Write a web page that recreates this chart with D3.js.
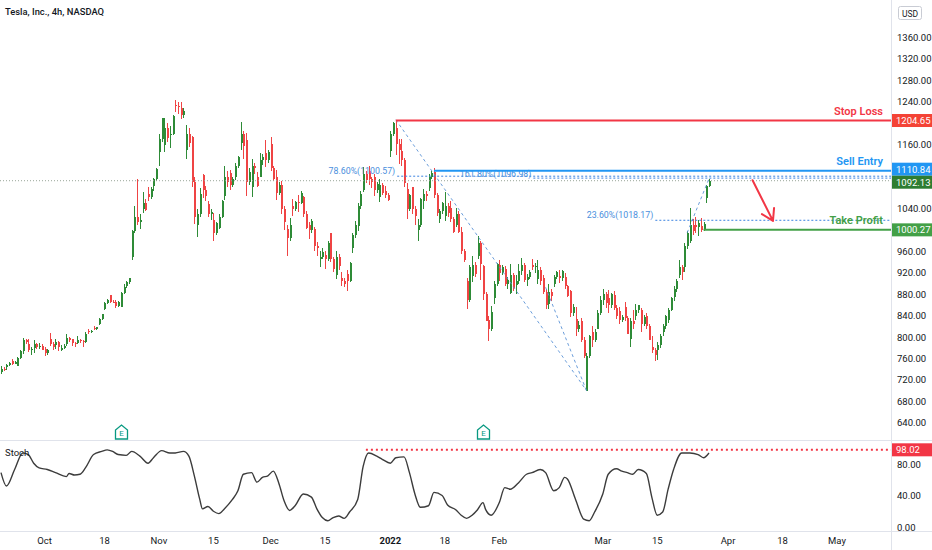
<!DOCTYPE html>
<html>
<head>
<meta charset="utf-8">
<script src="https://d3js.org/d3.v7.min.js"></script>
<style>
  body { margin: 0; background: #fff; }
  svg text { font-family: Roboto, "Liberation Sans", sans-serif; }
</style>
</head>
<body>
<svg id="chart" width="932" height="550"></svg>
<script>
'use strict'

/* =========================== Data (TSLA 4h, Sep 21 2021 - Mar 28 2022) =========================== */
// one entry per 4h bar, two bars a trading day (Nov 26 half day has one)
var opens = [
  734,741, 743,747, 755,750, 746,760, 773,794, 787,775, 780,786, 781,784,
  778,770, 797,786, 785,790, 776,780, 786,798, 796,788, 788,795, 792,790, 811,809, 816,815, 824,833, 852,864, 878,866, 865,858, 856,882, 896,902, 950,998, 1025,1015, 1040,1050, 1068,1062, 1082,1095,
  1145,1170, 1159,1190, 1177,1180, 1234,1232, 1228,1215, 1150,1180, 1174,1090, 1010,1030, 1103,1075, 1048,1030, 1018,995, 1003,1025, 1064,1100, 1107,1085, 1099,1120, 1162,1180, 1168,1090, 1080,1120, 1100, 1100,1130, 1144,1130,
  1161,1115, 1099,1070, 1085,1040, 1002,985, 1044,1040, 1053,1050, 1061,1030, 1009,1000, 1001,970, 945,950, 953,945, 995,945, 915,950, 911,905, 917,905, 966,990, 1007,1045, 1074,1105, 1110,1095, 1099,1075, 1061,1085, 1073,1065,
  1148,1180, 1190,1160, 1147,1130, 1077,1040, 1080,1040, 1000,1010, 1054,1068, 1079,1100, 1109,1065, 1020,1035, 1027,1045, 1042,1020, 1010,1030, 996,960, 905,870, 914,935, 952,975, 933,880, 832,815, 873,900,
  935,920, 928,900, 882,915, 897,905, 924,935, 906,912, 935,930, 908,925, 910,885, 862,885, 900,912, 914,910, 913,895, 886,845, 834,815, 830,795, 700,765, 809,795, 815,845,
  870,880, 872,860, 879,855, 849,832, 856,835, 796,830, 840,850, 851,825, 840,820, 781,775, 775,785, 809,820, 831,850, 875,890, 915,930, 930,970, 980,1010, 1010,1005, 1008,1000, 1060,1082
];
var highs = [
  745,744, 750,754, 758,756, 762,775, 799,797, 796,782, 794,789, 789,786,
  781,777, 807,790, 797,792, 785,787, 805,800, 796,790, 801,797, 795,810, 815,814, 820,819, 835,843, 866,871, 878,870, 870,867, 885,900, 905,910, 1000,1045, 1095,1030, 1071,1058, 1081,1080, 1098,1115,
  1180,1210, 1209,1200, 1195,1215, 1243,1240, 1240,1228, 1197,1190, 1175,1100, 1040,1078, 1105,1082, 1055,1040, 1032,1015, 1030,1057, 1120,1110, 1112,1100, 1125,1139, 1202,1185, 1181,1115, 1133,1125, 1109, 1143,1142, 1168,1150,
  1173,1120, 1113,1090, 1091,1045, 1010,1022, 1058,1055, 1065,1072, 1063,1035, 1015,1020, 1005,978, 960,966, 960,979, 995,950, 961,955, 922,910, 925,940, 995,1016, 1050,1073, 1117,1110, 1119,1100, 1104,1090, 1096,1088, 1082,1070,
  1185,1201, 1206,1170, 1170,1135, 1088,1068, 1081,1045, 1020,1059, 1076,1072, 1105,1111, 1116,1070, 1040,1052, 1071,1050, 1055,1025, 1042,1035, 1005,965, 910,934, 951,940, 988,980, 935,885, 840,858, 905,938,
  944,935, 932,912, 937,920, 915,937, 948,938, 918,926, 946,938, 944,930, 916,890, 899,890, 915,923, 926,925, 919,898, 887,862, 857,830, 835,800, 770,803, 820,815, 850,877,
  890,884, 887,882, 886,860, 856,842, 866,840, 835,850, 861,860, 854,842, 844,825, 801,780, 790,805, 825,842, 855,875, 895,908, 943,935, 975,998, 1041,1020, 1025,1018, 1022,1015, 1085,1096
];
var lows = [
  730,736, 739,745, 748,749, 745,758, 769,787, 772,766, 771,778, 777,775,
  764,767, 783,776, 778,774, 773,778, 784,790, 783,781, 786,789, 781,789, 806,807, 813,814, 822,832, 851,862, 863,863, 855,856, 856,880, 891,900, 944,995, 1010,1001, 1031,1035, 1054,1058, 1073,1092,
  1119,1165, 1146,1165, 1153,1178, 1220,1217, 1208,1210, 1133,1155, 1080,1012, 987,1025, 1060,1055, 1025,1019, 979,990, 1002,1022, 1056,1080, 1075,1080, 1093,1115, 1150,1132, 1063,1085, 1062,1105, 1081, 1100,1122, 1118,1125,
  1110,1091, 1057,1065, 1030,1000, 951,980, 1027,1035, 1033,1048, 1025,1002, 983,995, 960,951, 930,945, 928,942, 940,922, 909,925, 895,893, 886,902, 957,985, 998,1040, 1071,1088, 1085,1078, 1064,1070, 1053,1065, 1060,1055,
  1137,1175, 1140,1123, 1120,1081, 1021,1035, 1030,1010, 980,1005, 1039,1055, 1073,1095, 1060,1027, 1013,1030, 1016,1025, 1015,995, 1005,994, 955,941, 852,865, 903,912, 945,906, 870,829, 792,812, 862,895,
  905,915, 895,889, 881,886, 881,900, 915,903, 895,908, 925,920, 900,897, 880,853, 853,868, 893,908, 901,905, 890,874, 838,840, 801,810, 790,761, 700,760, 782,790, 815,842,
  860,854, 844,855, 850,833, 825,828, 830,805, 782,815, 832,845, 810,820, 815,794, 770,756, 757,780, 802,815, 826,848, 867,885, 910,907, 922,965, 976,990, 995,989, 997,998, 1050,1080
];
var closes = [
  741,739, 747,752, 750,754, 760,774, 794,791, 775,778, 786,781, 784,776,
  770,775, 786,782, 790,781, 780,783, 798,794, 788,786, 795,792, 790,806, 809,811, 815,818, 833,843, 864,870, 866,864, 858,866, 882,894, 902,910, 998,1025, 1015,1018, 1050,1038, 1062,1077, 1095,1114,
  1170,1209, 1190,1172, 1180,1214, 1232,1230, 1215,1222, 1180,1163, 1090,1024, 1030,1068, 1075,1064, 1030,1033, 995,1013, 1025,1055, 1100,1089, 1085,1096, 1120,1137, 1180,1157, 1090,1109, 1120,1116, 1082, 1130,1137, 1130,1145,
  1115,1095, 1070,1085, 1040,1015, 985,1009, 1040,1052, 1050,1069, 1030,1004, 1000,1017, 970,966, 950,959, 945,976, 945,927, 950,933, 905,900, 905,939, 990,1009, 1045,1067, 1105,1094, 1095,1089, 1075,1086, 1085,1070, 1065,1057,
  1180,1200, 1160,1150, 1130,1088, 1040,1065, 1040,1027, 1010,1058, 1068,1064, 1100,1106, 1065,1032, 1035,1050, 1045,1031, 1020,996, 1030,996, 960,944, 870,930, 935,918, 975,937, 880,829, 815,846, 900,937,
  920,931, 900,906, 915,891, 905,923, 935,907, 912,922, 930,932, 925,905, 885,860, 885,876, 912,922, 910,923, 895,876, 845,857, 815,822, 795,764, 765,801, 795,810, 845,870,
  880,864, 860,880, 855,839, 832,838, 835,805, 830,824, 850,859, 825,838, 820,795, 775,766, 785,802, 820,840, 850,872, 890,905, 930,921, 970,994, 1010,999, 1005,1014, 1000,1011, 1082,1092.13
];

// stochastic oscillator, read at these bars
var stochBars = [0,2,5,8,10,12,14,17,20,24,25,27,29,31,34,37,39,41,43,46,48,51,54,56,59,62,64,67,69,71,73,74,76,78,80,82,85,87,89,92,94,96,98,100,102,104,106,108,111,114,116,118,120,122,124,126,128,131,133,135,138,140,143,145,148,150,152,154,157,159,162,164,167,169,171,173,175,177,178,180,183,185,187,190,193,195,198,200,203,205,207,208,211,214,216,218,221,223,226,228,230,232,234,237,239,241,243,245,247,250,253,256,258,260];
var stochVals = [69,52,73,94,92,81,75,73,69,64,68,66,67,75,92,96,98,96,92,91,96,90,81,88,97,94,94,96,90,65,35,23,26,20,17,23,35,46,67,69,57,63,65,71,56,33,21,27,42,38,23,12,8,12,14,11,19,35,77,94,90,86,81,88,89,69,42,25,27,44,40,28,22,15,11,15,22,31,22,15,31,50,48,56,67,69,73,69,46,50,63,61,35,10,8,19,42,67,74,71,69,67,73,68,38,15,19,48,73,94,94,92,88,94];
var stochAlert = 98.02;
var stochAlertBar = 134;

// time axis
var timeLabels = ['Oct','18','Nov','15','Dec','15','2022','18','Feb','Mar','15','Apr','18','May'];
var timeBars = [16,38,58,78,99,119,143,163,183,221,241,267,287,307];

// price axis
var priceTicks = [640,680,720,760,800,840,880,920,960,1000,1040,1080,1120,1160,1200,1240,1280,1320,1360,1400];
var stochTicks = [0,40,80];

// trade levels
var levelNames = ['Stop Loss','Sell Entry','Take Profit'];
var levelPrices = [1204.65,1110.84,1000.27];
var levelStartBars = [145,159,258];

// fibonacci levels
var fibLabels = ['78.60%(1100.57)','161.80%(1096.98)','23.60%(1018.17)'];
var fibPrices = [1100.57,1096.98,1018.17];
var fibStartBars = [145.5,195.5,240.3];

// dashed fib anchor lines
var trendBars = [[145,215],[200,215],[252,260]];
var trendPrices = [[1206,700],[893,700],[995,1096]];

// red arrow
var arrowBars = [276,283.5];
var arrowPrices = [1093,1017];

// earnings markers
var earningsBars = [44,177];

/* =========================== Setup ============================= */
var svg = d3.select('#chart');
var axisX = 891;
var paneBottom = 440;
var stochBottom = 531;

var x = d3.scaleLinear().domain([0,326]).range([1,888.7]);
var y = d3.scaleLinear().domain([600,1400]).range([444,16]);
var ys = d3.scaleLinear().domain([0,100]).range([527,448.25]);

var upColor = '#2e8b37', downColor = '#ef4444';
var textColor = '#131722';

svg.append('defs').append('clipPath').attr('id','pricePane')
  .append('rect').attr('x',0).attr('y',0).attr('width',axisX).attr('height',paneBottom);

var pane = svg.append('g').attr('clip-path','url(#pricePane)');

/* =========================== Frame ============================= */
function drawFrame(){
  svg.append('line').attr('x1',0).attr('x2',932).attr('y1',paneBottom+0.5).attr('y2',paneBottom+0.5)
    .attr('stroke','#e0e3eb');
  svg.append('line').attr('x1',0).attr('x2',932).attr('y1',stochBottom+0.5).attr('y2',stochBottom+0.5)
    .attr('stroke','#e0e3eb');
  svg.append('line').attr('x1',axisX+0.5).attr('x2',axisX+0.5).attr('y1',0).attr('y2',550)
    .attr('stroke','#e0e3eb');

  svg.append('text').attr('x',5).attr('y',15).attr('font-size',9.4).attr('font-weight',500)
    .attr('fill',textColor).text('Tesla, Inc., 4h, NASDAQ');
}

/* =========================== Candles ============================= */
function drawCandles(){
  var n = d3.min([opens.length, highs.length, lows.length, closes.length]);
  var idx = d3.range(n);
  var g = pane.append('g').attr('shape-rendering','crispEdges');

  g.selectAll('line.wick').data(idx).enter().append('line')
    .attr('x1', function(i){ return Math.round(x(i)) + 0.5; })
    .attr('x2', function(i){ return Math.round(x(i)) + 0.5; })
    .attr('y1', function(i){ return y(highs[i]); })
    .attr('y2', function(i){ return y(lows[i]); })
    .attr('stroke', function(i){ return closes[i] >= opens[i] ? upColor : downColor; });

  g.selectAll('rect.body').data(idx).enter().append('rect')
    .attr('x', function(i){ return Math.round(x(i)) - 0.5; })
    .attr('width', 2)
    .attr('y', function(i){ return y(Math.max(opens[i], closes[i])); })
    .attr('height', function(i){ return Math.max(1, Math.abs(y(opens[i]) - y(closes[i]))); })
    .attr('fill', function(i){ return closes[i] >= opens[i] ? upColor : downColor; });
}

/* =========================== Drawings ============================= */
function drawAnnotations(){
  var last = closes[closes.length-1];

  // last price dotted line
  pane.append('line').attr('x1',0).attr('x2',axisX).attr('y1',y(last)).attr('y2',y(last))
    .attr('stroke','#98a598').attr('stroke-dasharray','1,2');

  // dashed anchor lines of the fib tools
  trendBars.forEach(function(b, k){
    pane.append('line')
      .attr('x1',x(b[0])).attr('y1',y(trendPrices[k][0]))
      .attr('x2',x(b[1])).attr('y2',y(trendPrices[k][1]))
      .attr('stroke','#5b93d6').attr('stroke-dasharray','3,3').attr('stroke-width',0.9);
  });

  // fib levels
  fibPrices.forEach(function(p, k){
    pane.append('line').attr('x1',x(fibStartBars[k])).attr('x2',axisX)
      .attr('y1',y(p)).attr('y2',y(p))
      .attr('stroke','#3b82e0').attr('stroke-dasharray','2,2');
    pane.append('text').attr('x',x(fibStartBars[k]) - 2).attr('y',y(p) - (k === 1 ? 1 : 2))
      .attr('text-anchor','end').attr('font-size',8.8).attr('fill','#4a8fdd')
      .text(fibLabels[k]);
  });

  // trade levels
  var levelColors = ['#f23645','#2196f3','#43a047'];
  levelPrices.forEach(function(p, k){
    pane.append('line').attr('x1',x(levelStartBars[k])).attr('x2',axisX)
      .attr('y1',y(p)).attr('y2',y(p))
      .attr('stroke',levelColors[k]).attr('stroke-width',2);
    pane.append('text').attr('x',883).attr('y',y(p) - 6)
      .attr('text-anchor','end').attr('font-size',11).attr('font-weight',600)
      .attr('fill',levelColors[k]).text(levelNames[k]);
  });

  // red arrow pointing to take profit
  var ax1 = x(arrowBars[0]), ay1 = y(arrowPrices[0]), ax2 = x(arrowBars[1]), ay2 = y(arrowPrices[1]);
  var ang = Math.atan2(ay2 - ay1, ax2 - ax1);
  var head = 13;
  pane.append('path')
    .attr('d', 'M' + ax1 + ',' + ay1 + 'L' + ax2 + ',' + ay2 +
      'M' + (ax2 - head*Math.cos(ang - 0.55)) + ',' + (ay2 - head*Math.sin(ang - 0.55)) +
      'L' + ax2 + ',' + ay2 +
      'L' + (ax2 - head*Math.cos(ang + 0.55)) + ',' + (ay2 - head*Math.sin(ang + 0.55)))
    .attr('fill','none').attr('stroke','#f23645').attr('stroke-width',2)
    .attr('stroke-linecap','round').attr('stroke-linejoin','round');

  // earnings markers
  earningsBars.forEach(function(b){
    var cx = Math.round(x(b)) + 0.5, cy = 432;
    svg.append('path')
      .attr('d','M'+(cx-6)+','+(cy+7)+'V'+(cy-2)+'L'+cx+','+(cy-7)+'L'+(cx+6)+','+(cy-2)+'V'+(cy+7)+'Z')
      .attr('fill','#fff').attr('stroke','#089981').attr('stroke-width',1.3);
    svg.append('text').attr('x',cx).attr('y',cy+4).attr('text-anchor','middle')
      .attr('font-size',8).attr('fill','#089981').text('E');
  });
}

/* =========================== Stochastic pane ============================= */
function drawStoch(){
  svg.append('line').attr('x1',x(stochAlertBar)).attr('x2',axisX)
    .attr('y1',ys(stochAlert)).attr('y2',ys(stochAlert))
    .attr('stroke','#f23645').attr('stroke-width',2).attr('stroke-dasharray','2,3');

  var line = d3.line()
    .x(function(d, i){ return x(stochBars[i]); })
    .y(function(d){ return ys(d); })
    .curve(d3.curveMonotoneX);
  svg.append('path').datum(stochVals).attr('d', line)
    .attr('fill','none').attr('stroke','#3c3c3c').attr('stroke-width',1.4);

  svg.append('text').attr('x',5).attr('y',456).attr('font-size',9.5)
    .attr('fill',textColor).text('Stoch');
}

/* =========================== Axes ============================= */
// labels that the coloured tags would cover are left out
function hiddenByTag(v){
  var last = closes[closes.length-1];
  return [levelPrices[0], levelPrices[1], last, levelPrices[2]].some(function(p){
    return Math.abs(y(p) - y(v)) < 9;
  }) || y(v) < 21;
}

function drawAxes(){
  svg.selectAll('text.ptick').data(priceTicks.filter(function(d){ return !hiddenByTag(d); }))
    .enter().append('text')
    .attr('x',897).attr('y',function(d){ return y(d) + 3.5; })
    .attr('font-size',9.5).attr('fill',textColor)
    .text(function(d){ return d.toFixed(2); });

  svg.selectAll('text.stick').data(stochTicks).enter().append('text')
    .attr('x',897).attr('y',function(d){ return ys(d) + 3.5; })
    .attr('font-size',9.5).attr('fill',textColor)
    .text(function(d){ return d.toFixed(2); });

  svg.selectAll('text.ttick').data(timeLabels).enter().append('text')
    .attr('x',function(d, i){ return x(timeBars[i]); }).attr('y',544)
    .attr('text-anchor','middle').attr('font-size',9.5)
    .attr('font-weight',function(d){ return d === '2022' ? 700 : 400; })
    .attr('fill',textColor).text(function(d){ return d; });

  // USD badge
  svg.append('rect').attr('x',898.5).attr('y',6.5).attr('width',23).attr('height',13).attr('rx',2)
    .attr('fill','#fff').attr('stroke','#c9ccd4');
  svg.append('text').attr('x',910).attr('y',16.5).attr('text-anchor','middle')
    .attr('font-size',8.5).attr('fill',textColor).text('USD');
}

// coloured price tags on the right scale
function drawTags(){
  var last = closes[closes.length-1];
  var tags = [
    {v: levelPrices[0], c: '#f44336', cy: y(levelPrices[0])},
    {v: levelPrices[1], c: '#2196f3', cy: y(levelPrices[1]) - 1.5},
    {v: last,           c: '#2e7d32', cy: y(last) + 1.5},
    {v: levelPrices[2], c: '#43a047', cy: y(levelPrices[2])},
    {v: stochAlert,     c: '#f23645', cy: ys(stochAlert)}
  ];
  tags.forEach(function(t){
    svg.append('rect').attr('x',axisX+1).attr('y',t.cy - 6.5).attr('width',41).attr('height',13)
      .attr('fill',t.c);
    svg.append('text').attr('x',axisX+5).attr('y',t.cy + 3.5).attr('font-size',9.5)
      .attr('fill','#fff').text(t.v.toFixed(2));
  });
}

drawFrame();
drawCandles();
drawAnnotations();
drawStoch();
drawAxes();
drawTags();
</script>
</body>
</html>
